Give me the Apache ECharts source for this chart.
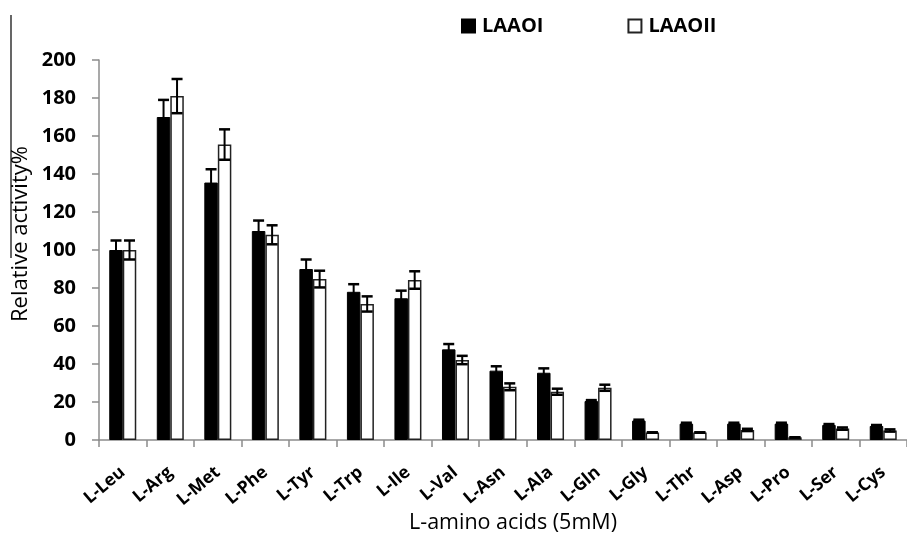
<!DOCTYPE html>
<html>
<head>
<meta charset="utf-8">
<script src="https://cdn.jsdelivr.net/npm/echarts@6/dist/echarts.min.js"></script>
<style>
  html, body { margin: 0; padding: 0; background: #fff; }
  #chart { width: 907px; height: 536px; }
</style>
</head>
<body>
<div id="chart"></div>
<script>
// Amino acid substrates on the category axis
const aminoAcids = ['L-Leu', 'L-Arg', 'L-Met', 'L-Phe', 'L-Tyr', 'L-Trp', 'L-Ile', 'L-Val',
  'L-Asn', 'L-Ala', 'L-Gln', 'L-Gly', 'L-Thr', 'L-Asp', 'L-Pro', 'L-Ser', 'L-Cys'];

// Relative activity (%) and standard deviations for each oxidase
const laaoI = [100, 170, 135.5, 110, 90, 78, 74.6, 47.7, 36.5, 35.4, 20.5, 10.2, 8.6, 8.6, 8.6, 7.9, 7.4];
const laaoIErr = [5, 9, 7, 5.5, 5, 4, 4, 2.8, 2.3, 2.3, 0.5, 0.5, 0.5, 0.5, 0.5, 0.5, 0.5];
const laaoII = [100, 181, 155.5, 108, 84.7, 71.6, 84.2, 42.1, 28, 25.4, 27.5, 4, 4, 5.3, 1.4, 6, 5];
const laaoIIErr = [5, 9, 8, 5, 4.4, 4, 4.6, 2.2, 1.8, 1.6, 1.6, 0, 0, 0.6, 0, 0.6, 0.6];

// Value axis ticks
const yTicks = [0, 20, 40, 60, 80, 100, 120, 140, 160, 180, 200];

const BAR_W = 13.5;
const FONT = '"Open Sans", "Noto Sans", sans-serif';

function errorBars(values, errs, offset) {
  const data = values.map((v, i) => [i, v, errs[i]]);
  return {
    type: 'custom',
    z: 10,
    silent: true,
    renderItem: function (params, api) {
      const i = api.value(0), v = api.value(1), e = api.value(2);
      const top = api.coord([i, v + e]);
      const bot = api.coord([i, v - e]);
      const x = top[0] + offset;
      const half = 5.5;
      const style = { stroke: '#000', lineWidth: 2.5 };
      return {
        type: 'group',
        children: [
          { type: 'line', shape: { x1: x, y1: top[1], x2: x, y2: bot[1] }, style: { stroke: '#000', lineWidth: 2 } },
          { type: 'line', shape: { x1: x - half, y1: top[1], x2: x + half, y2: top[1] }, style },
          { type: 'line', shape: { x1: x - half, y1: bot[1], x2: x + half, y2: bot[1] }, style }
        ]
      };
    },
    encode: { x: 0, y: 1 },
    data: data
  };
}

const chart = echarts.init(document.getElementById('chart'), null, { renderer: 'canvas' });

chart.setOption({
  backgroundColor: '#fff',
  animation: false,
  grid: { left: 99, right: -18, top: 60, bottom: 96, containLabel: false },
  legend: {
    top: 16,
    left: 461,
    padding: 0,
    itemWidth: 13,
    itemHeight: 13,
    itemGap: 84,
    icon: 'rect',
    textStyle: { fontFamily: FONT, fontSize: 20, fontWeight: 'bold', color: '#000', padding: [0, 0, 0, 2] },
    data: ['LAAOI', 'LAAOII']
  },
  xAxis: {
    type: 'category',
    data: aminoAcids,
    axisLine: { lineStyle: { color: '#8c8c8c', width: 1.5 } },
    axisTick: { show: true, length: 7, lineStyle: { color: '#8c8c8c', width: 1.5 } },
    axisLabel: {
      rotate: 40,
      interval: 0,
      margin: 30,
      fontFamily: FONT,
      fontSize: 17.5,
      fontWeight: 'bold',
      color: '#000'
    }
  },
  yAxis: {
    type: 'value',
    min: 0,
    max: 200,
    interval: 20,
    splitLine: { show: false },
    axisLine: { show: true, lineStyle: { color: '#8c8c8c', width: 1.5 } },
    axisTick: { show: true, length: 7, lineStyle: { color: '#8c8c8c', width: 1.5 } },
    axisLabel: {
      margin: 23,
      fontFamily: FONT,
      fontSize: 20,
      fontWeight: 'bold',
      color: '#000',
      formatter: v => (yTicks.includes(v) ? String(v) : '')
    }
  },
  graphic: [
    {
      type: 'line',
      shape: { x1: 11, y1: 15, x2: 11, y2: 258 },
      style: { stroke: '#000', lineWidth: 1.2 }
    },
    {
      type: 'text',
      x: 21,
      y: 234,
      rotation: Math.PI / 2,
      style: {
        text: 'Relative activity%',
        fontFamily: FONT,
        fontSize: 22,
        fill: '#000',
        align: 'center',
        verticalAlign: 'middle'
      }
    },
    {
      type: 'text',
      x: 513,
      y: 523,
      style: {
        text: 'L-amino acids (5mM)',
        fontFamily: FONT,
        fontSize: 21.5,
        fill: '#000',
        align: 'center',
        verticalAlign: 'middle'
      }
    }
  ],
  series: [
    {
      name: 'LAAOI',
      type: 'bar',
      data: laaoI,
      barWidth: BAR_W,
      barGap: '0%',
      itemStyle: { color: '#000', borderColor: '#000', borderWidth: 1 }
    },
    {
      name: 'LAAOII',
      type: 'bar',
      data: laaoII,
      barWidth: BAR_W,
      barGap: '0%',
      itemStyle: { color: '#fff', borderColor: '#222', borderWidth: 1.5 }
    },
    errorBars(laaoI, laaoIErr, -BAR_W / 2),
    errorBars(laaoII, laaoIIErr, BAR_W / 2)
  ]
});
</script>
</body>
</html>
